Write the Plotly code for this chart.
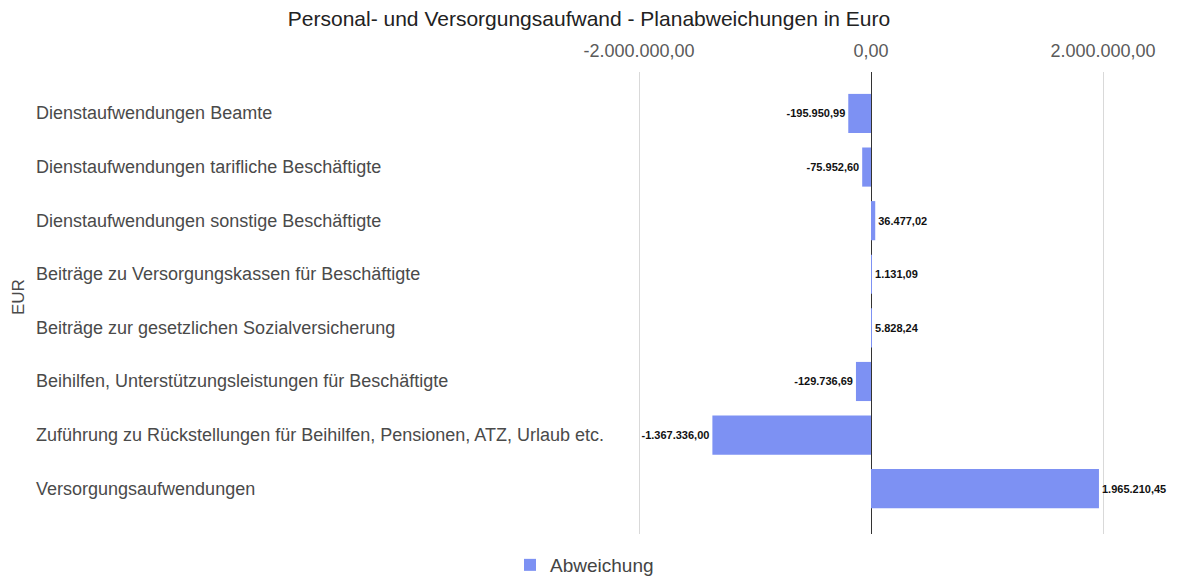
import plotly.graph_objects as go

categories = [
    "Dienstaufwendungen Beamte",
    "Dienstaufwendungen tarifliche Beschäftigte",
    "Dienstaufwendungen sonstige Beschäftigte",
    "Beiträge zu Versorgungskassen für Beschäftigte",
    "Beiträge zur gesetzlichen Sozialversicherung",
    "Beihilfen, Unterstützungsleistungen für Beschäftigte",
    "Zuführung zu Rückstellungen für Beihilfen, Pensionen, ATZ, Urlaub etc.",
    "Versorgungsaufwendungen",
]
abweichung = [-195950.99, -75952.60, 36477.02, 1131.09, 5828.24, -129736.69, -1367336.00, 1965210.45]
tick_vals = [-2000000, 0, 2000000]
tick_text = ["-2.000.000,00", "0,00", "2.000.000,00"]


def de_fmt(v):
    s = f"{v:,.2f}"
    return s.replace(",", "X").replace(".", ",").replace("X", ".")


FONT = "Arial, Liberation Sans, sans-serif"
OFF = 8  # page body margin
W, H = 1180 - OFF, 580 - OFF
# plot area in page pixels
P_L, P_R, P_T, P_B = 582 + OFF, 1160, 72, 540
ML, MR = P_L - OFF, W - (P_R - OFF)
MT, MB = P_T - OFF, H - (P_B - OFF)
zero_px = 871
px_per_unit = 232 / 2000000
x_left = -(zero_px - P_L) / px_per_unit
x_right = (P_R - zero_px) / px_per_unit
plot_w = P_R - P_L
plot_h = P_B - P_T
band = 54.3
first_center = 114
y_top = -0.5 - ((first_center - band / 2) - P_T) / band
y_bot = 7.5 + (P_B - (first_center + 7.5 * band)) / band

fig = go.Figure()
fig.add_trace(go.Bar(
    x=abweichung,
    y=categories,
    orientation="h",
    name="Abweichung",
    marker=dict(color="#7d91f3", line=dict(width=0)),
    text=[de_fmt(v) for v in abweichung],
    textposition="outside",
    textfont=dict(size=11, color="#111", family=FONT, weight="bold"),
    cliponaxis=False,
    showlegend=True,
))

annotations = []
for c in categories:
    annotations.append(dict(
        x=(34 - P_L) / plot_w, xref="paper", y=c, yref="y",
        text=c, showarrow=False, xanchor="left", yanchor="middle",
        font=dict(size=18, color="#4a4a4a", family=FONT),
    ))
annotations.append(dict(
    x=(18 - P_L) / plot_w, xref="paper", y=(P_B - 300) / plot_h, yref="paper",
    text="EUR", showarrow=False, textangle=-90,
    xanchor="center", yanchor="middle",
    font=dict(size=17, color="#4a4a4a", family=FONT),
))

fig.update_layout(
    width=W, height=H,
    margin=dict(l=ML, r=MR, t=MT, b=MB),
    paper_bgcolor="white", plot_bgcolor="white",
    font=dict(family=FONT, color="#444"),
    title=dict(
        text="Personal- und Versorgungsaufwand - Planabweichungen in Euro",
        x=(589 - OFF) / W, xanchor="center", xref="container",
        y=1 - (19 - OFF) / H, yanchor="middle", yref="container",
        font=dict(size=21, color="#222", family=FONT),
    ),
    bargap=0.27,
    xaxis=dict(
        side="top", range=[x_left, x_right],
        tickvals=tick_vals, ticktext=tick_text,
        tickfont=dict(size=18, color="#5a5a5a", family=FONT),
        showgrid=True, gridcolor="#d9d9d9", gridwidth=1,
        zeroline=True, zerolinecolor="#333", zerolinewidth=1,
        showline=False, ticks="", ticklabelstandoff=10,
        fixedrange=True,
    ),
    yaxis=dict(
        categoryorder="array", categoryarray=categories,
        autorange=False, range=[y_bot, y_top],
        showticklabels=False, showgrid=False, zeroline=False, showline=False,
        ticks="",
    ),
    legend=dict(
        orientation="h", xref="container", yref="container",
        x=(510 - OFF) / W, xanchor="left", y=1 - (565 - OFF) / H, yanchor="middle",
        font=dict(size=19, color="#444", family=FONT),
    ),
    annotations=annotations,
)

fig.write_html("out.html")
